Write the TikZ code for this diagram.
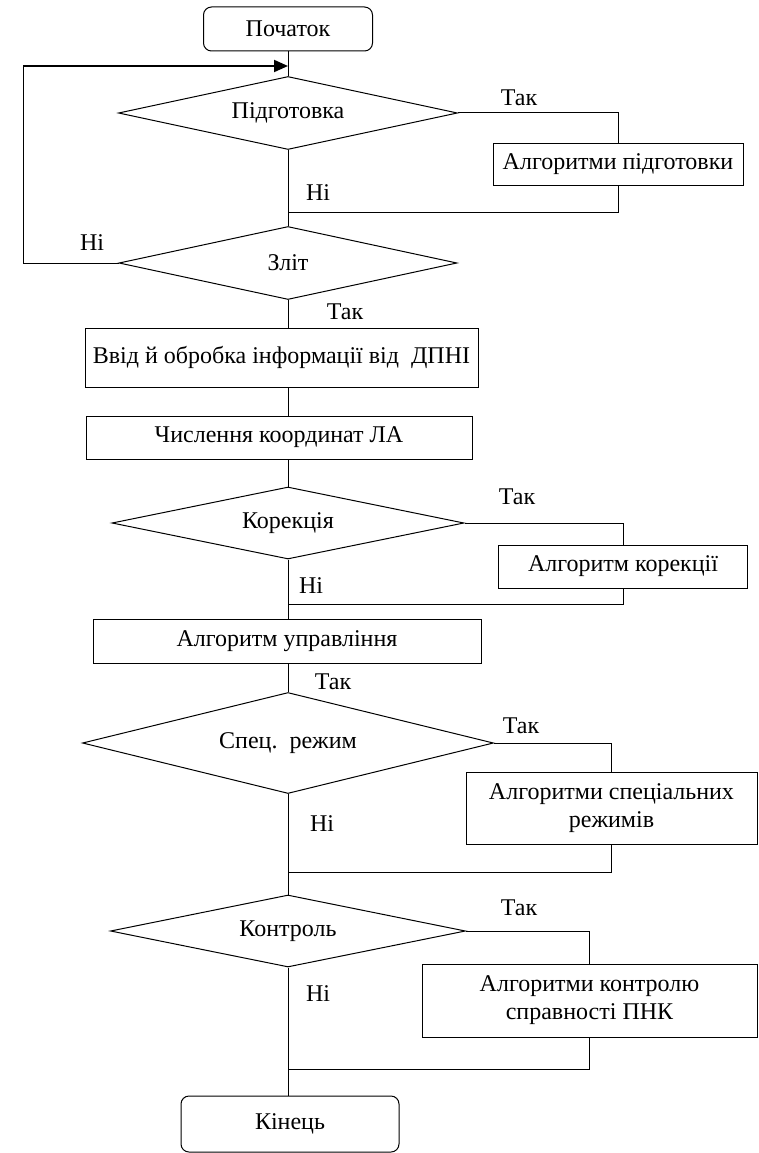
\documentclass[tikz,border=0pt]{standalone}
\usepackage{fontspec}
\setmainfont{Liberation Serif}
\usetikzlibrary{arrows.meta,positioning,shapes.geometric}

\begin{document}
\begin{tikzpicture}[x=1pt, y=-1pt, line width=1pt,
    every node/.style={font=\fontsize{24}{28}\selectfont},
    term/.style={draw, rounded corners=8pt, inner sep=0pt, align=center},
    blk/.style={draw, inner sep=0pt, align=center},
    dec/.style={draw, diamond, aspect=4, inner sep=0pt, align=center},
    lbl/.style={inner sep=0pt}]
    \useasboundingbox (0,0) rectangle (758,1153);
    % main column
    \node[term, minimum width=169pt, minimum height=44pt] (start) at (288,29) {Початок};
    \node[dec, minimum width=339pt, minimum height=73pt] (prep) at (288,113) {Підготовка};
    \node[blk, minimum width=250pt, minimum height=42pt] (prepalg) at (618,164) {Алгоритми підготовки};
    \node[dec, minimum width=338pt, minimum height=73pt] (zlit) at (288,263) {Зліт};
    \node[blk, minimum width=393pt, minimum height=59pt] (input) at (281.5,357.5) {Ввід й обробка інформації від~~ДПНІ};
    \node[blk, minimum width=386pt, minimum height=43pt] (calc) at (279,437.5) {Числення координат ЛА};
    \node[dec, minimum width=352pt, minimum height=72pt] (corr) at (288,523) {Корекція};
    \node[blk, minimum width=249pt, minimum height=43pt] (corralg) at (623,566.5) {Алгоритм корекції};
    \node[blk, minimum width=388pt, minimum height=44pt] (ctrl) at (287,641) {Алгоритм управління};
    \node[dec, minimum width=411pt, minimum height=101pt] (spec) at (288,743) {Спец.~~режим};
    \node[blk, minimum width=291pt, minimum height=72pt] (specalg) at (611.5,808) {Алгоритми спеціальних\\режимів};
    \node[dec, minimum width=355pt, minimum height=72pt] (ctl) at (288,931) {Контроль};
    \node[blk, minimum width=335pt, minimum height=73pt] (ctlalg) at (589.5,1000.5) {Алгоритми контролю\\справності ПНК};
    \node[term, minimum width=218pt, minimum height=56pt] (end) at (290,1124) {Кінець};

    % labels
    \node[lbl] (t1) at (519,98) {Так};
    \node[lbl] (n1) at (318,193) {Ні};
    \node[lbl] (n2) at (92,243) {Ні};
    \node[lbl] (t2) at (345,312) {Так};
    \node[lbl] (t3) at (517,497) {Так};
    \node[lbl] (n3) at (311,586) {Ні};
    \node[lbl] (t4) at (333,682) {Так};
    \node[lbl] (t5) at (521,726) {Так};
    \node[lbl] (n4) at (322,824) {Ні};
    \node[lbl] (t6) at (519,908) {Так};
    \node[lbl] (n5) at (318,994) {Ні};

    % junctions
    \coordinate (loop) at (288,66);
    \coordinate (lc) at (23,66);
    \coordinate (m1) at (288,212);
    \coordinate (m2) at (288,604);
    \coordinate (m3) at (288,872);
    \coordinate (m4) at (288,1069);

    % connectors
    \draw (start.south -| prep.north) -- (prep);
    \draw (prep) -- (zlit);
    \draw (zlit.south) -- (zlit.south |- input.north);
    \draw (input.south -| zlit.south) -- (zlit.south |- calc.north);
    \draw (calc.south -| corr.north) -- (corr.north);
    \draw (corr) -- (corr.south |- ctrl.north);
    \draw (ctrl.south -| spec.north) -- (spec);
    \draw (spec) -- (ctl);
    \draw (ctl.south) -- (ctl.south |- end.north);
    \draw (prep.east) -| (prepalg.north);
    \draw (prepalg.south) |- (m1);
    \draw (corr.east) -| (corralg.north);
    \draw (corralg.south) |- (m2);
    \draw (spec.east) -| (specalg.north);
    \draw (specalg.south) |- (m3);
    \draw (ctl.east) -| (ctlalg.north);
    \draw (ctlalg.south) |- (m4);
    % loop back
    \draw (zlit.west) -| (lc);
    \draw[line width=2pt, -{Triangle[length=14pt,width=12pt]}] (lc) -- (loop);
\end{tikzpicture}
\end{document}
